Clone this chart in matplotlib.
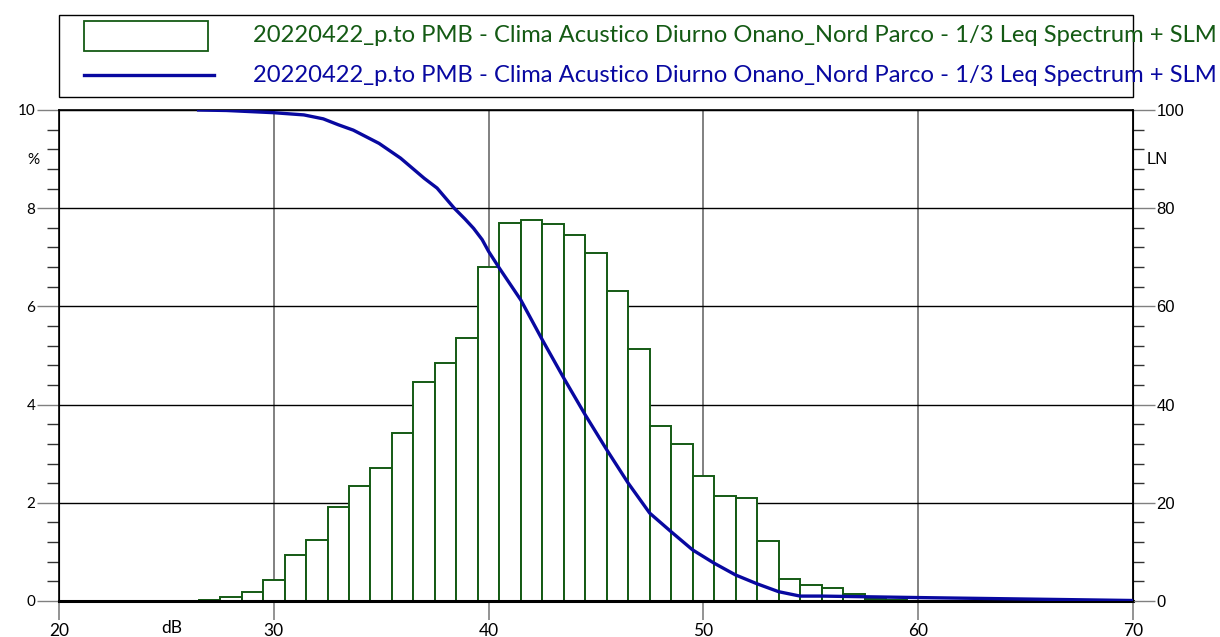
import matplotlib

matplotlib.use("Agg")
import matplotlib.pyplot as plt
from matplotlib.lines import Line2D
from matplotlib.patches import Rectangle
from matplotlib.ticker import MultipleLocator

# Histogram of levels, 1 dB classes centred on the integer values (%)
bin_db = list(range(27, 62))
bin_pct = [
    0.02, 0.08, 0.19, 0.43, 0.94, 1.24, 1.91, 2.34, 2.71, 3.42,
    4.46, 4.85, 5.36, 6.81, 7.70, 7.75, 7.68, 7.46, 7.08, 6.32,
    5.13, 3.57, 3.20, 2.54, 2.14, 2.10, 1.22, 0.45, 0.33, 0.27,
    0.15, 0.04, 0.02, 0.01, 0.01,
]

# Cumulative curve LN (right axis)
ln_db = [
    26.5, 27.8, 30.0, 31.4, 32.3, 33.0, 33.7, 34.9, 35.9, 37.0, 37.6,
    38.4, 38.9, 39.3, 39.7, 40.0, 40.5, 41.5, 42.5, 43.5, 44.5, 45.5,
    46.5, 47.5, 48.5, 49.5, 50.5, 51.5, 52.5, 53.5, 54.5, 55.5, 57.0,
    60.0, 65.0, 70.0,
]
ln_val = [
    100.0, 99.9, 99.45, 99.0, 98.2, 97.0, 95.9, 93.2, 90.2, 86.1, 84.1,
    80.0, 77.8, 75.9, 73.6, 71.2, 67.8, 61.3, 53.2, 45.4, 37.9, 30.8,
    24.0, 17.9, 14.1, 10.4, 7.7, 5.3, 3.5, 1.9, 1.0, 1.0, 0.9,
    0.7, 0.4, 0.1,
]
ln_ticks = [0, 20, 40, 60, 80, 100]

series_label = "20220422_p.to PMB - Clima Acustico Diurno Onano_Nord Parco - 1/3 Leq Spectrum + SLM"

GREEN = "#145a14"
BLUE = "#0808a0"
W, H = 1220, 637

plt.rcParams["font.family"] = ["Lato", "DejaVu Sans"]

fig = plt.figure(figsize=(W / 100, H / 100), dpi=100)
ax = fig.add_axes([59 / W, (H - 601) / H, 1074 / W, 491 / H])

ax.bar(bin_db, bin_pct, width=1.0, facecolor="white", edgecolor=GREEN,
       linewidth=1.4, zorder=2)

ax.set_xlim(20, 70)
ax.set_ylim(0, 10)
ax.xaxis.set_major_locator(MultipleLocator(10))
ax.yaxis.set_major_locator(MultipleLocator(2))
ax.yaxis.set_minor_locator(MultipleLocator(0.4))
ax.grid(axis="x", color="#808080", linewidth=1.4, zorder=0)
ax.grid(axis="y", color="black", linewidth=1.0, zorder=0)
ax.set_axisbelow(True)

ax.tick_params(axis="x", which="major", length=14, width=1.2, color="#808080",
               labelsize=12.5, pad=2)
ax.tick_params(axis="y", which="major", length=16, width=1.0, color="#808080",
               labelsize=11, pad=1)
ax.tick_params(axis="y", which="minor", length=9, width=1.0, color="#333333")

for side in ["left", "right", "top"]:
    ax.spines[side].set_linewidth(1.2)
ax.spines["bottom"].set_linewidth(2.2)

ax2 = ax.twinx()
ax2.plot(ln_db, ln_val, color=BLUE, linewidth=2.4, zorder=3)
ax2.set_ylim(0, 100)
ax2.set_yticks(ln_ticks)
ax2.set_yticklabels([str(v) for v in ln_ticks], family="Liberation Sans",
                    fontsize=12)
ax2.yaxis.set_minor_locator(MultipleLocator(4))
ax2.tick_params(axis="y", which="major", length=16, width=1.0, color="#808080",
                pad=1)
ax2.tick_params(axis="y", which="minor", length=8, width=1.0, color="#333333")

fig.text(33 / W, 1 - 160 / H, "%", ha="center", va="center", fontsize=11)
fig.text(1157 / W, 1 - 160 / H, "LN", ha="center", va="center", fontsize=12,
         family="Liberation Sans")
fig.text(172 / W, 1 - 628 / H, "dB", ha="center", va="center", fontsize=12.5)

# Legend drawn by hand: the labels run past the frame
fig.patches.append(Rectangle((59 / W, 1 - 97 / H), 1074 / W, 82 / H,
                             transform=fig.transFigure, facecolor="white",
                             edgecolor="black", linewidth=1.0))
fig.patches.append(Rectangle((84 / W, 1 - 51 / H), 124 / W, 30 / H,
                             transform=fig.transFigure, facecolor="white",
                             edgecolor=GREEN, linewidth=1.3))
fig.lines.append(Line2D([84 / W, 214 / W], [1 - 75 / H, 1 - 75 / H],
                        transform=fig.transFigure, color=BLUE, linewidth=2.4))
t1 = fig.text(253 / W, 1 - 36 / H, series_label, color=GREEN, fontsize=15,
              va="center")
t2 = fig.text(253 / W, 1 - 75 / H, series_label, color=BLUE, fontsize=15,
              va="center")

# fit label width to the reference (253 px -> 1218 px)
renderer = fig.canvas.get_renderer()
width_px = t1.get_window_extent(renderer).width
size = 15 * 965 / width_px
t1.set_fontsize(size)
t2.set_fontsize(size)

fig.savefig("out.png", dpi=100)
